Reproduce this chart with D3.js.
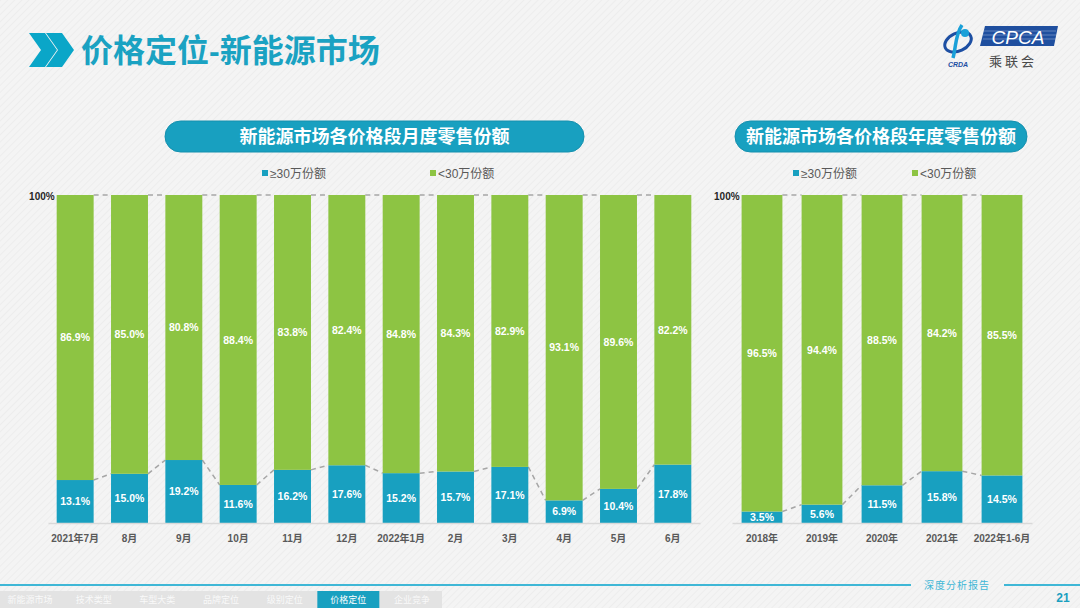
<html>
<head>
<meta charset="utf-8">
<script src="https://d3js.org/d3.v7.min.js"></script>
<style>
body { margin: 0; background: #f3f3f3; }
text { font-family: "Liberation Sans", Arial, "Noto Sans CJK SC", sans-serif; }
</style>
</head>
<body>
<svg width="1080" height="608"></svg>
<script>
// monthly share of NEV retail by price band
var monthCats = ["2021年7月", "8月", "9月", "10月", "11月", "12月", "2022年1月", "2月", "3月", "4月", "5月", "6月"];
var monthHigh = [13.1, 15.0, 19.2, 11.6, 16.2, 17.6, 15.2, 15.7, 17.1, 6.9, 10.4, 17.8];
var monthLow  = [86.9, 85.0, 80.8, 88.4, 83.8, 82.4, 84.8, 84.3, 82.9, 93.1, 89.6, 82.2];

// yearly share
var yearCats = ["2018年", "2019年", "2020年", "2021年", "2022年1-6月"];
var yearHigh = [3.5, 5.6, 11.5, 15.8, 14.5];
var yearLow  = [96.5, 94.4, 88.5, 84.2, 85.5];

var seriesNames = ["≥30万份额", "<30万份额"];
var navTabs = ["新能源市场", "技术类型", "车型大类", "品牌定位", "级别定位", "价格定位", "企业竞争"];
var activeTab = "价格定位";

var blue = "#18a0c0", green = "#8dc443";
var svg = d3.select("svg");

// background stripes
var defs = svg.append("defs");
var pat = defs.append("pattern").attr("id", "stripes").attr("width", 5).attr("height", 5)
  .attr("patternUnits", "userSpaceOnUse").attr("patternTransform", "rotate(45)");
pat.append("rect").attr("width", 5).attr("height", 5).attr("fill", "#f4f4f4");
pat.append("line").attr("x1", 0).attr("y1", 0).attr("x2", 0).attr("y2", 5)
  .attr("stroke", "#ebebeb").attr("stroke-width", 1.5);
svg.append("rect").attr("width", 1080).attr("height", 608).attr("fill", "url(#stripes)");

// header
[29, 46].forEach(function (x0) {
  svg.append("polygon")
    .attr("points", [[x0,33],[x0+16,33],[x0+28,50],[x0+16,67],[x0,67],[x0+12,50]].join(" "))
    .attr("fill", "#0aa6c8");
});
svg.append("text").attr("x", 81).attr("y", 62)
  .style("font-size", "32px").style("font-weight", "bold").attr("fill", "#1aa2c2")
  .text("价格定位-新能源市场");

// logo
var logo = svg.append("g");
logo.append("ellipse").attr("cx", 958).attr("cy", 42).attr("rx", 14).attr("ry", 9)
  .attr("transform", "rotate(-25,958,42)").attr("fill", "none").attr("stroke", "#1d4fa3").attr("stroke-width", 3);
logo.append("path").attr("d", "M962,25 C955,35 956,48 953,58").attr("fill", "none")
  .attr("stroke", "#1aa0d8").attr("stroke-width", 3.5);
logo.append("circle").attr("cx", 965).attr("cy", 33).attr("r", 4).attr("fill", "#1aa0d8");
logo.append("text").attr("x", 958).attr("y", 67).attr("text-anchor", "middle")
  .style("font-size", "7px").style("font-weight", "bold").style("font-style", "italic")
  .attr("fill", "#1d4fa3").text("CRDA");
logo.append("polygon").attr("points", "985,26 1058,26 1054,46 980,46").attr("fill", "#1f4f9f");
[31, 35, 39].forEach(function (yy) {
  logo.append("line").attr("x1", 983).attr("x2", 1056).attr("y1", yy).attr("y2", yy)
    .attr("stroke", "#c9d6ee").attr("stroke-width", 0.4);
});
logo.append("text").attr("x", 1018).attr("y", 44).attr("text-anchor", "middle")
  .style("font-size", "19px").style("font-style", "italic").attr("fill", "#fff").text("CPCA");
logo.append("text").attr("x", 1013).attr("y", 66).attr("text-anchor", "middle")
  .style("font-size", "13px").style("letter-spacing", "3px").attr("fill", "#4a4a4a").text("乘联会");

function pill(x0, x1, label) {
  svg.append("rect").attr("x", x0).attr("y", 121).attr("width", x1 - x0).attr("height", 31)
    .attr("rx", 15.5).attr("fill", blue).attr("stroke", "#1590ae").attr("stroke-width", 1);
  svg.append("text").attr("x", (x0 + x1) / 2).attr("y", 143).attr("text-anchor", "middle")
    .style("font-size", "18px").style("font-weight", "bold").attr("fill", "#fff").text(label);
}

function legend(xs) {
  [blue, green].forEach(function (c, i) {
    svg.append("rect").attr("x", xs[i]).attr("y", 170).attr("width", 6).attr("height", 6).attr("fill", c);
    svg.append("text").attr("x", xs[i] + 8).attr("y", 178)
      .style("font-size", "12px").attr("fill", "#595959").text(seriesNames[i]);
  });
}

function drawChart(cats, high, low, x0, x1) {
  var x = d3.scaleBand().domain(cats).range([x0, x1]).paddingInner(0.32).paddingOuter(0.16);
  var y = d3.scaleLinear().domain([0, 100]).range([523, 195]);
  var bw = x.bandwidth();
  var g = svg.append("g");

  var rows = cats.map(function (c, i) { return { cat: c, high: high[i], low: low[i] }; });

  // series connector lines
  var links = [];
  for (var i = 0; i < rows.length - 1; i++) {
    links.push({ a: rows[i], b: rows[i + 1], k: "high" });
    links.push({ a: rows[i], b: rows[i + 1], k: "top" });
  }
  g.selectAll("line.link").data(links).enter().append("line")
    .attr("x1", function (d) { return x(d.a.cat) + bw; })
    .attr("x2", function (d) { return x(d.b.cat); })
    .attr("y1", function (d) { return d.k == "high" ? y(d.a.high) : y(d.a.high + d.a.low); })
    .attr("y2", function (d) { return d.k == "high" ? y(d.b.high) : y(d.b.high + d.b.low); })
    .attr("stroke", "#a6a6a6").attr("stroke-width", 1.5).attr("stroke-dasharray", "5,4");

  g.selectAll("rect.hi").data(rows).enter().append("rect")
    .attr("x", function (d) { return x(d.cat); })
    .attr("y", function (d) { return y(d.high); })
    .attr("width", bw)
    .attr("height", function (d) { return y(0) - y(d.high); })
    .attr("fill", blue);
  g.selectAll("rect.lo").data(rows).enter().append("rect")
    .attr("x", function (d) { return x(d.cat); })
    .attr("y", function (d) { return y(d.high + d.low); })
    .attr("width", bw)
    .attr("height", function (d) { return y(d.high) - y(d.high + d.low); })
    .attr("fill", green);

  g.selectAll("text.vh").data(rows).enter().append("text")
    .attr("x", function (d) { return x(d.cat) + bw / 2; })
    .attr("y", function (d) { return y(d.high / 2); })
    .attr("dy", "0.36em").attr("text-anchor", "middle")
    .style("font-size", "10.5px").style("font-weight", "bold").attr("fill", "#fff")
    .text(function (d) { return d.high.toFixed(1) + "%"; });
  g.selectAll("text.vl").data(rows).enter().append("text")
    .attr("x", function (d) { return x(d.cat) + bw / 2; })
    .attr("y", function (d) { return y(d.high + d.low / 2); })
    .attr("dy", "0.36em").attr("text-anchor", "middle")
    .style("font-size", "10.5px").style("font-weight", "bold").attr("fill", "#fff")
    .text(function (d) { return d.low.toFixed(1) + "%"; });

  var ax = g.append("g").attr("transform", "translate(0,523)")
    .call(d3.axisBottom(x).tickSize(0).tickPadding(12));
  ax.select(".domain").attr("stroke", "#d9d9d9").attr("stroke-width", 1.5);
  ax.selectAll("text").style("font-size", "10px").style("font-weight", "bold")
    .attr("fill", "#595959").style("font-family", "'Liberation Sans', Arial, 'Noto Sans CJK SC', sans-serif");

  var ay = g.append("g").attr("transform", "translate(" + (x(cats[0]) - 2) + ",0)")
    .call(d3.axisLeft(y).tickValues([100]).tickFormat(function (d) { return d + "%"; })
      .tickSize(0).tickPadding(0));
  ay.select(".domain").remove();
  ay.selectAll("text").style("font-size", "10px").style("font-weight", "bold").attr("fill", "#262626")
    .attr("dy", "0.45em")
    .style("font-family", "'Liberation Sans', Arial, sans-serif");
}

pill(165, 584, "新能源市场各价格段月度零售份额");
legend([262, 430]);
drawChart(monthCats, monthHigh, monthLow, 48, 700);

pill(735, 1027, "新能源市场各价格段年度零售份额");
legend([793, 912]);
drawChart(yearCats, yearHigh, yearLow, 732, 1032);

// footer
svg.append("line").attr("x1", 0).attr("x2", 911).attr("y1", 585).attr("y2", 585)
  .attr("stroke", "#3fb7d6").attr("stroke-width", 2);
svg.append("line").attr("x1", 1004).attr("x2", 1080).attr("y1", 585).attr("y2", 585)
  .attr("stroke", "#3fb7d6").attr("stroke-width", 2);
svg.append("text").attr("x", 957).attr("y", 589).attr("text-anchor", "middle")
  .style("font-size", "10px").style("letter-spacing", "1px").style("font-family", "'Noto Sans CJK SC', sans-serif")
  .attr("fill", "#3fb7d6").text("深度分析报告");
svg.append("text").attr("x", 1063).attr("y", 602).attr("text-anchor", "middle")
  .style("font-size", "12px").style("font-weight", "bold").attr("fill", "#1a9fc0").text("21");

var tabX = d3.scalePoint().domain(navTabs).range([30, 412]);
svg.append("rect").attr("x", 0).attr("y", 591).attr("width", 442).attr("height", 17).attr("fill", "#e3e3e3");
svg.append("rect").attr("x", tabX(activeTab) - 31).attr("y", 591).attr("width", 62).attr("height", 17).attr("fill", blue);
svg.selectAll("text.tab").data(navTabs).enter().append("text")
  .attr("x", function (d) { return tabX(d); }).attr("y", 603).attr("text-anchor", "middle")
  .style("font-size", "9px").style("font-family", "'Noto Sans CJK SC', sans-serif")
  .attr("fill", "#fff").attr("fill-opacity", function (d) { return d == activeTab ? 1 : 0.8; })
  .text(function (d) { return d; });
</script>
</body>
</html>
